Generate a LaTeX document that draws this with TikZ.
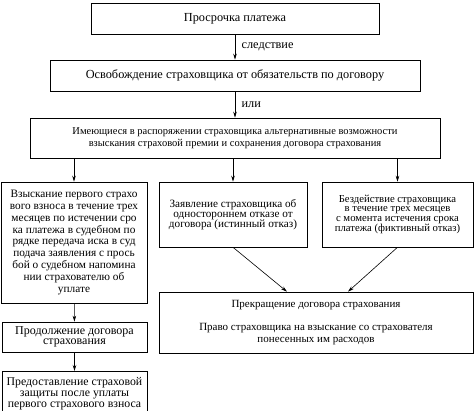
\documentclass[tikz,border=0pt]{standalone}
\usepackage{fontspec}
\setmainfont{Liberation Serif}
\usetikzlibrary{arrows.meta}

\begin{document}
\begin{tikzpicture}[x=1pt,y=-1pt,
    every node/.style={font=\fontsize{10.5}{11.5}\selectfont},
    blk/.style={draw,semithick,align=center,inner sep=1pt},
    big/.style={font=\fontsize{12.3}{13}\selectfont},
    arr/.style={semithick,-{Stealth[length=6pt,width=3.5pt]}}]

  \useasboundingbox (0,0) rectangle (474,411);

  % Top chain
  \node[blk,big,minimum width=288pt,minimum height=31pt] (delay) at (235,18.5) {Просрочка платежа};
  \node[blk,big,minimum width=370pt,minimum height=31pt] (release) at (235,75.5)
    {Освобождение страховщика от обязательств по договору};
  \node[blk,minimum width=410pt,minimum height=40pt] (options) at (235,138)
    {Имеющиеся в распоряжении страховщика альтернативные возможности\\
     взыскания страховой премии и сохранения договора страхования};

  \draw[arr] (delay) -- (release) node[midway,right=3pt,big] {следствие};
  \draw[arr] (release) -- (options) node[midway,right=3pt,big] {или};

  % Three alternatives
  \node[blk,font=\fontsize{11.3}{11.8}\selectfont,minimum width=146pt,minimum height=121pt] (court) at (74,242.5)
    {Взыскание первого страхо\\ вого взноса в течение трех\\ месяцев по истечении сро\\
     ка платежа в судебном по\\ рядке  передача иска в суд\\ подача заявления с прось\\
     бой о судебном напомина\\ нии страхователю об\\ уплате};
  \node[blk,font=\fontsize{11.2}{10.2}\selectfont,minimum width=148pt,minimum height=65pt] (refusal) at (233,214.5)
    {Заявление страховщика об\\ одностороннем отказе от\\ договора (истинный отказ)};
  \node[blk,font=\fontsize{10.7}{9.6}\selectfont,minimum width=151pt,minimum height=65pt] (idle) at (397.5,214.5)
    {Бездействие страховщика\\ в течение трех месяцев\\ с момента истечения срока\\
     платежа (фиктивный отказ)};

  \foreach \b in {court,refusal,idle}
    \draw[arr] (options.south -| \b.north) -- (\b.north);

  % Outcomes
  \node[blk,font=\fontsize{11}{12}\selectfont,minimum width=314pt,minimum height=61pt] (stop) at (316,322.5)
    {Прекращение договора страхования\\[11pt]
     Право страховщика на взыскание со страхователя\\ понесенных им расходов};
  \draw[arr] (refusal.south) -- ([xshift=-29pt]stop.north);
  \draw[arr] (idle.south) -- ([xshift=32pt]stop.north);

  \node[blk,font=\fontsize{12}{10.5}\selectfont,minimum width=145pt,minimum height=30pt] (keep) at (74.5,337)
    {Продолжение договора\\ страхования};
  % runs on below the page edge
  \node[blk,font=\fontsize{11.8}{11}\selectfont,minimum width=145pt,minimum height=56pt,
        anchor=north,inner ysep=4pt] (cover) at (74.5,371)
    {Предоставление страховой\\ защиты после уплаты\\ первого страхового взноса\\ \strut};
  \draw[arr] (court) -- (keep);
  \draw[arr] (keep) -- (cover);

\end{tikzpicture}
\end{document}
